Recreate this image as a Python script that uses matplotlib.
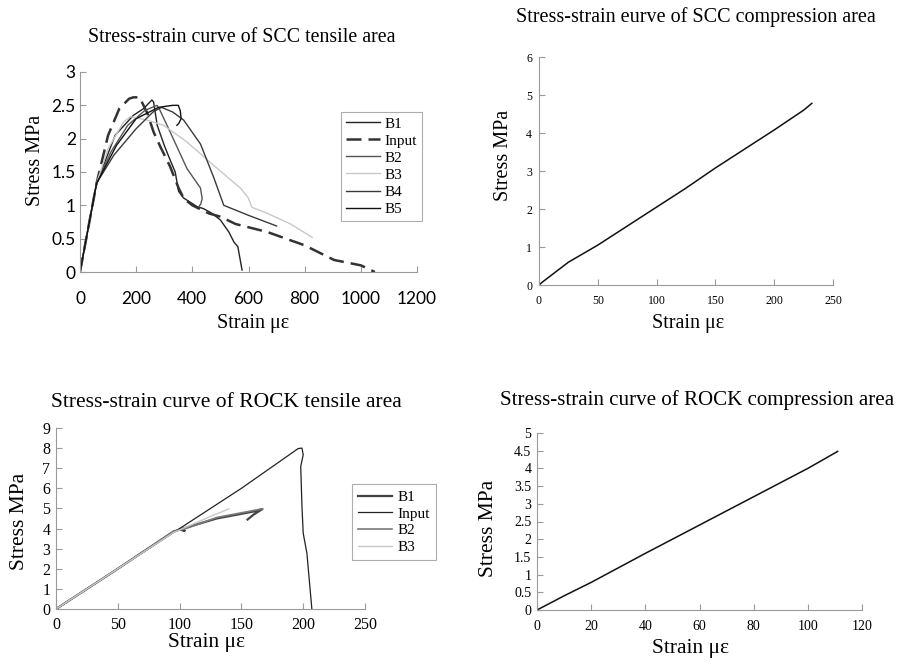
import matplotlib
matplotlib.use("Agg")
import matplotlib.pyplot as plt
from matplotlib.ticker import FormatStrFormatter, MultipleLocator

W, H = 901, 665
SERIF = "Liberation Serif"
SANS = "Lato"

# SCC tensile area (strain in microstrain, stress in MPa)
scc_t_input_x = [0, 59, 100, 140, 175, 190, 212, 240, 262, 286, 321, 351, 370, 400, 458, 500, 554, 667, 800, 905, 1000, 1050]
scc_t_input_y = [0, 1.33, 2.05, 2.45, 2.60, 2.62, 2.62, 2.38, 2.10, 1.88, 1.58, 1.26, 1.10, 1.00, 0.88, 0.83, 0.72, 0.60, 0.40, 0.18, 0.10, 0]
scc_t_b1_x = [0, 59, 125, 190, 226, 256, 262, 275, 300, 321, 339, 351, 369, 417, 440, 470, 500, 530, 548, 562, 577]
scc_t_b1_y = [0, 1.33, 2.05, 2.35, 2.45, 2.58, 2.55, 2.20, 1.90, 1.68, 1.50, 1.21, 1.11, 0.98, 0.95, 0.88, 0.78, 0.60, 0.45, 0.38, 0.03]
scc_t_b2_x = [0, 59, 110, 170, 230, 274, 282, 321, 381, 429, 435, 430, 423]
scc_t_b2_y = [0, 1.33, 1.80, 2.20, 2.42, 2.50, 2.45, 2.10, 1.55, 1.26, 1.10, 1.02, 0.98]
scc_t_b3_x = [0, 59, 100, 155, 179, 238, 298, 381, 476, 571, 598, 605, 612, 667, 750, 827]
scc_t_b3_y = [0, 1.33, 1.85, 2.25, 2.33, 2.28, 2.20, 1.95, 1.60, 1.26, 1.12, 1.05, 0.97, 0.88, 0.72, 0.52]
scc_t_b4_x = [0, 59, 120, 200, 260, 290, 330, 369, 429, 476, 512, 600, 700]
scc_t_b4_y = [0, 1.33, 1.75, 2.15, 2.40, 2.47, 2.40, 2.28, 1.92, 1.42, 1.00, 0.85, 0.69]
scc_t_b5_x = [0, 59, 130, 200, 280, 330, 350, 357, 360, 352, 345]
scc_t_b5_y = [0, 1.33, 1.90, 2.30, 2.47, 2.50, 2.50, 2.42, 2.30, 2.23, 2.20]

# SCC compression area
scc_c_x = [0, 3, 25, 50, 75, 100, 125, 150, 175, 200, 225, 232]
scc_c_y = [0, 0.08, 0.60, 1.05, 1.55, 2.05, 2.55, 3.08, 3.58, 4.08, 4.60, 4.78]

# ROCK tensile area
rock_t_input_x = [0, 50, 100, 150, 196, 199, 200, 198, 199, 200, 203, 207]
rock_t_input_y = [0, 2.0, 4.0, 6.0, 7.98, 8.0, 7.67, 7.08, 5.1, 3.77, 2.77, 0]
rock_t_b1_x = [0, 50, 95, 100, 104, 100, 130, 160, 167, 160, 155]
rock_t_b1_y = [0, 2.0, 3.85, 3.95, 3.90, 3.95, 4.50, 4.85, 4.97, 4.70, 4.45]
rock_t_b2_x = [0, 50, 95, 105, 130, 160, 167]
rock_t_b2_y = [0, 2.0, 3.85, 4.0, 4.55, 4.90, 4.98]
rock_t_b3_x = [0, 50, 95, 110, 125, 140]
rock_t_b3_y = [0, 2.0, 3.80, 4.20, 4.60, 4.98]

# ROCK compression area
rock_c_x = [0, 10, 20, 40, 60, 80, 100, 111]
rock_c_y = [0, 0.40, 0.78, 1.60, 2.40, 3.20, 4.00, 4.48]


def axes_px(fig, left, top, right, bottom):
    return fig.add_axes([left / W, 1 - bottom / H, (right - left) / W, (bottom - top) / H])


def label_px(fig, x, y, text, size, rot=0):
    fig.text(x / W, 1 - y / H, text, ha="center", va="center", rotation=rot,
             fontsize=size, family=SERIF)


def style(ax, xmax, xstep, ymax, ystep, fsize, font, xpad, ypad):
    ax.set_xlim(0, xmax)
    ax.set_ylim(0, ymax)
    ax.xaxis.set_major_locator(MultipleLocator(xstep))
    ax.yaxis.set_major_locator(MultipleLocator(ystep))
    ax.yaxis.set_major_formatter(FormatStrFormatter("%g"))
    ax.xaxis.set_major_formatter(FormatStrFormatter("%g"))
    for s in ["top", "right"]:
        ax.spines[s].set_visible(False)
    for s in ["left", "bottom"]:
        ax.spines[s].set_color("#9a9a9a")
        ax.spines[s].set_linewidth(0.8)
    ax.tick_params(direction="in", length=4, width=0.8, color="#9a9a9a", labelsize=fsize)
    ax.tick_params(axis="x", pad=xpad)
    ax.tick_params(axis="y", pad=ypad)
    for t in ax.get_xticklabels() + ax.get_yticklabels():
        t.set_family(font)
    ax.patch.set_alpha(0)


fig = plt.figure(figsize=(W / 100, H / 100), dpi=100)

# top left
ax1 = axes_px(fig, 80, 72, 417, 272)
ax1.plot(scc_t_b1_x, scc_t_b1_y, color="#222222", lw=1.0, label="B1")
ax1.plot(scc_t_input_x, scc_t_input_y, color="#333333", lw=1.8, dashes=(6, 2.8), label="Input")
ax1.plot(scc_t_b2_x, scc_t_b2_y, color="#555555", lw=1.0, label="B2")
ax1.plot(scc_t_b3_x, scc_t_b3_y, color="#c8c8c8", lw=1.0, label="B3")
ax1.plot(scc_t_b4_x, scc_t_b4_y, color="#3a3a3a", lw=1.0, label="B4")
ax1.plot(scc_t_b5_x, scc_t_b5_y, color="#111111", lw=1.0, label="B5")
style(ax1, 1200, 200, 3, 0.5, 12.5, SANS, 14, 3)
leg = ax1.legend(loc="upper left", bbox_to_anchor=(0.774, 0.802), borderaxespad=0,
                 prop={"family": SERIF, "size": 11}, handlelength=2.2, handletextpad=0.3,
                 labelspacing=0.22, borderpad=0.35, fancybox=False, edgecolor="#999999")
leg.get_frame().set_linewidth(0.8)
label_px(fig, 242, 37, "Stress-strain curve of SCC tensile area", 14.3)
label_px(fig, 36, 160, "Stress MPa", 14.5, 90)
label_px(fig, 253, 323, "Strain \u03bc\u03b5", 14.5)

# top right
ax2 = axes_px(fig, 539, 57, 833, 285)
ax2.plot(scc_c_x, scc_c_y, color="#111111", lw=1.1)
style(ax2, 250, 50, 6, 1, 8.5, SERIF, 7, 5)
label_px(fig, 696, 17, "Stress-strain eurve of SCC compression area", 14.5)
label_px(fig, 503, 155, "Stress MPa", 14.5, 90)
label_px(fig, 688, 323, "Strain \u03bc\u03b5", 14.5)

# bottom left
ax3 = axes_px(fig, 56, 428, 365, 609)
ax3.plot(rock_t_b1_x, rock_t_b1_y, color="#444444", lw=1.6, label="B1")
ax3.plot(rock_t_input_x, rock_t_input_y, color="#222222", lw=0.9, label="Input")
ax3.plot(rock_t_b2_x, rock_t_b2_y, color="#7a7a7a", lw=1.2, label="B2")
ax3.plot(rock_t_b3_x, rock_t_b3_y, color="#c8c8c8", lw=1.0, label="B3")
style(ax3, 250, 50, 9, 1, 11.5, SERIF, 6, 4)
leg = ax3.legend(loc="upper left", bbox_to_anchor=(0.958, 0.69), borderaxespad=0,
                 prop={"family": SERIF, "size": 11}, handlelength=2.2, handletextpad=0.4,
                 labelspacing=0.2, borderpad=0.4, fancybox=False, edgecolor="#999999")
leg.get_frame().set_linewidth(0.8)
label_px(fig, 226, 402, "Stress-strain curve of ROCK tensile area", 15.5)
label_px(fig, 20, 521, "Stress MPa", 15.5, 90)
label_px(fig, 207, 642, "Strain \u03bc\u03b5", 15.5)

# bottom right
ax4 = axes_px(fig, 537, 433, 862, 610)
ax4.plot(rock_c_x, rock_c_y, color="#111111", lw=1.1)
style(ax4, 120, 20, 5, 0.5, 10, SERIF, 7, 4)
label_px(fig, 697, 400, "Stress-strain curve of ROCK compression area", 15.1)
label_px(fig, 488, 528, "Stress MPa", 15.5, 90)
label_px(fig, 690, 648, "Strain \u03bc\u03b5", 15.5)

fig.savefig("out.png", dpi=100)
